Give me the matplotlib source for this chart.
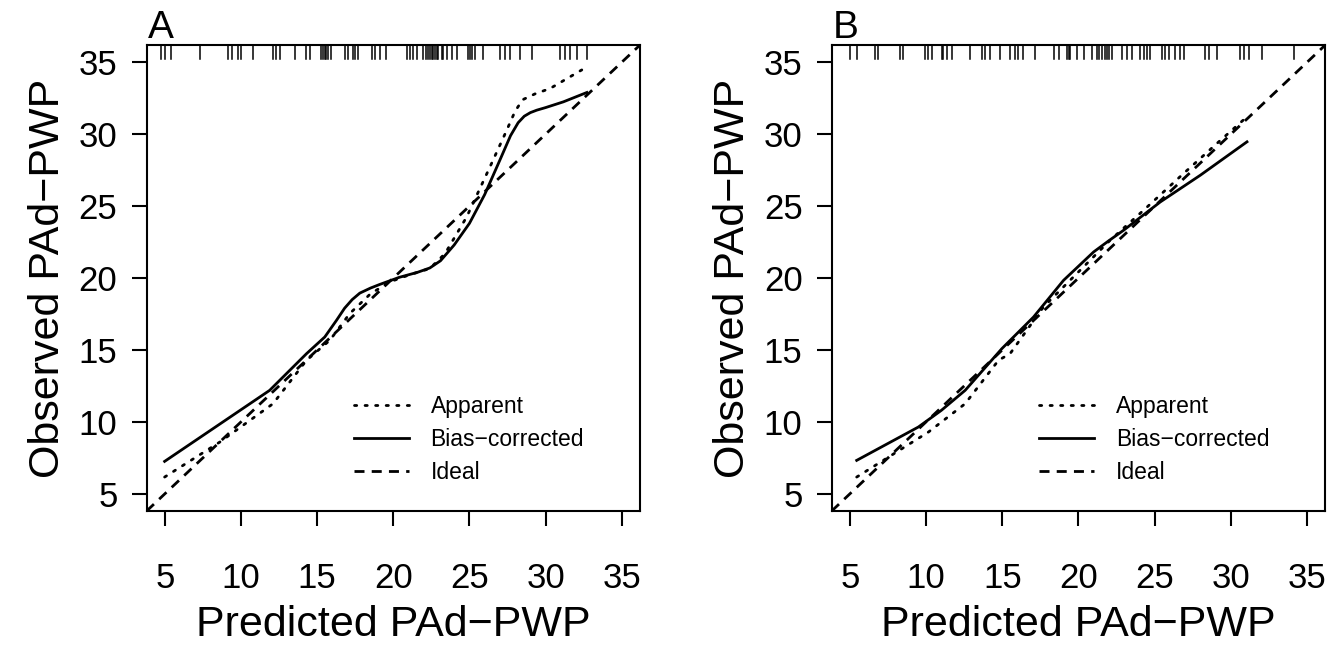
import numpy as np
import matplotlib.pyplot as plt

plt.rcParams['font.family'] = ['Liberation Sans', 'DejaVu Sans']

# --- calibration curves
# panel A
a_app_x = [4.98, 8.6, 12.1, 14.3, 15.83, 17.14, 18.5, 19.77, 21.0, 22.4, 23.4, 24.82, 26.35, 27.45, 28.0, 28.5, 29.3, 30.3, 32.38]
a_app_y = [6.16, 8.59, 11.26, 14.28, 15.67, 17.53, 18.9, 19.73, 20.2, 20.66, 21.7, 24.25, 27.73, 30.28, 31.6, 32.4, 32.8, 33.18, 34.47]
a_bc_x = [4.98, 8.5, 11.88, 14.3, 15.5, 16.27, 16.8, 17.3, 17.8, 18.5, 19.1, 20.4, 21.6, 22.4, 23.1, 24.0, 25.0, 26.0, 27.0,
          27.7, 28.2, 28.6, 29.0, 29.42, 30.0, 31.17, 32.71]
a_bc_y = [7.25, 9.77, 12.19, 14.74, 15.9, 17.06, 17.9, 18.5, 18.95, 19.3, 19.55, 20.05, 20.4, 20.7, 21.2, 22.3, 23.8, 25.8, 28.2,
          29.9, 30.8, 31.25, 31.5, 31.67, 31.85, 32.25, 32.9]
a_rug = [4.76, 4.98, 5.42, 7.28, 9.14, 9.43, 9.80, 10.02, 10.79, 12.10, 12.32, 12.54, 13.53, 14.29, 14.51,
         15.28, 15.39, 15.50, 15.61, 15.72, 15.94, 16.81, 17.03, 17.36, 17.47, 17.69, 18.57, 18.79, 19.12,
         19.55, 20.87, 21.09, 21.31, 21.53, 21.96, 22.18, 22.29, 22.40, 22.51, 22.62, 22.73, 22.84, 22.95,
         23.17, 23.28, 23.50, 23.83, 24.16, 24.92, 25.03, 25.14, 25.36, 25.91, 27.01, 27.33, 27.66, 28.32,
         29.09, 30.95, 31.28, 31.61, 32.05, 32.70]

# panel B
b_app_x = [5.44, 10.15, 12.56, 14.75, 15.51, 17.7, 19.89, 22.08, 24.27, 26.9, 29.09, 31.06]
b_app_y = [6.16, 9.29, 11.26, 14.28, 14.74, 17.99, 20.31, 22.63, 24.71, 27.27, 29.36, 31.21]
b_bc_x = [5.44, 9.49, 11.0, 12.56, 14.97, 17.05, 19.02, 20.99, 22.0, 22.96, 25.37, 28.0, 31.06]
b_bc_y = [7.32, 9.64, 10.8, 12.19, 15.09, 17.29, 19.84, 21.81, 22.6, 23.32, 25.29, 27.15, 29.47]
b_rug = [5.00, 5.44, 6.64, 6.86, 8.29, 8.50, 9.93, 10.15, 10.37, 11.02, 11.13, 11.35, 11.68, 12.88, 13.65,
         13.87, 14.20, 14.86, 15.51, 15.84, 16.06, 16.39, 17.16, 18.36, 18.69, 19.24, 19.35, 19.45, 19.89,
         20.33, 20.88, 21.21, 21.32, 21.54, 21.75, 21.86, 21.97, 22.19, 22.85, 23.18, 23.51, 24.05, 24.27,
         24.49, 24.71, 25.48, 25.70, 25.92, 26.35, 26.68, 26.90, 28.32, 28.55, 29.09, 30.62, 30.84, 31.17,
         32.05, 34.13]

ticks = [5, 10, 15, 20, 25, 30, 35]
lim = (3.8, 36.2)

fig = plt.figure(figsize=(13.38, 6.47), dpi=100)
ax_a = fig.add_axes([0.1096, 0.2102, 0.3687, 0.7202])
ax_b = fig.add_axes([0.6216, 0.2102, 0.3689, 0.7202])

panels = [(ax_a, 'A', a_app_x, a_app_y, a_bc_x, a_bc_y, a_rug),
          (ax_b, 'B', b_app_x, b_app_y, b_bc_x, b_bc_y, b_rug)]

for ax, letter, ax_x, ax_y, bx, by, rug in panels:
    ax.plot(ax_x, ax_y, color='black', lw=2.0, linestyle=(0, (0.8, 3.0)),
            dash_capstyle='round', label='Apparent')
    ax.plot(bx, by, color='black', lw=2.0, solid_joinstyle='round',
            label='Bias\u2212corrected')
    ax.plot(lim, lim, color='black', lw=2.0, linestyle=(0, (3.6, 2.6)), label='Ideal')
    # rug of predicted values along the top
    for r in rug:
        ax.plot([r, r], [1.0, 0.97], color='black', lw=1.1,
                transform=ax.get_xaxis_transform(), clip_on=False)

    ax.set_xlim(lim)
    ax.set_ylim(lim)
    ax.set_xticks(ticks)
    ax.set_yticks(ticks)
    ax.tick_params(labelsize=25, length=11, width=1.5, direction='out')
    ax.tick_params(axis='x', pad=26)
    ax.tick_params(axis='y', pad=10)
    for s in ax.spines.values():
        s.set_linewidth(1.5)

    ax.text(-0.2, 0.5, 'Observed PAd\u2212PWP', rotation=90, fontsize=31,
            ha='center', va='center', transform=ax.transAxes)
    ax.text(0.5, -0.245, 'Predicted PAd\u2212PWP', fontsize=31,
            ha='center', va='center', transform=ax.transAxes)
    ax.text(0.003, 1.015, letter, fontsize=28, ha='left', va='baseline',
            transform=ax.transAxes)

    ax.legend(loc='upper left', bbox_to_anchor=(0.42, 0.248), frameon=False,
              fontsize=16.5, handlelength=2.4, handletextpad=0.95,
              labelspacing=0.42, borderpad=0, borderaxespad=0)

plt.savefig('out.png', dpi=100)
